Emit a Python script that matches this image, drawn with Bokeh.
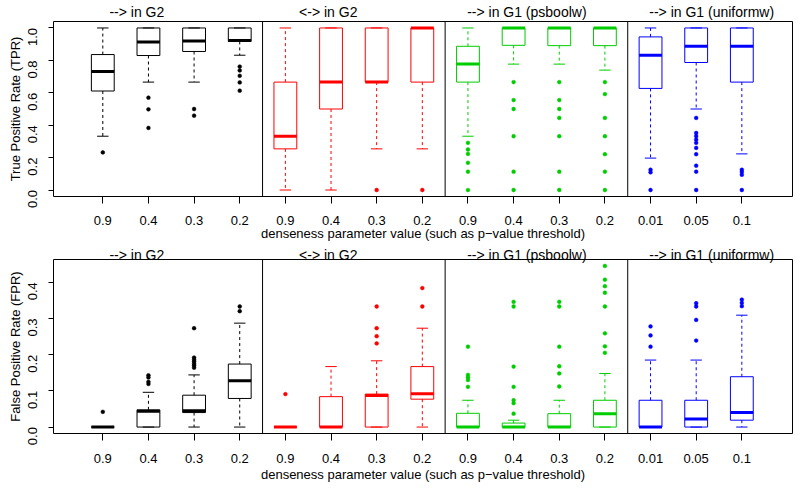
import math
from bokeh.plotting import figure
from bokeh.layouts import column
from bokeh.models import FixedTicker, Span, PrintfTickFormatter, LinearAxis
from bokeh.embed import file_html
from bokeh.resources import INLINE

# ---------------- data ----------------
tick_labels = ["0.9", "0.4", "0.3", "0.2"] * 3 + ["0.01", "0.05", "0.1"]
group_titles = ["--> in G2", "<-> in G2", "--> in G1 (psboolw)", "--> in G1 (uniformw)"]
group_sizes = [4, 4, 4, 3]
group_colors = ["#000000", "#FF0000", "#00CD00", "#0000FF"]
x_label = "denseness parameter value (such as p\u2212value threshold)"

# True Positive Rate boxplot statistics
tpr_low = [0.332, 0.666, 0.666, 0.832, 0.0, 0.0, 0.254, 0.254, 0.332, 0.777, 0.777, 0.740, 0.197, 0.5, 0.223]
tpr_q1 = [0.611, 0.830, 0.855, 0.917, 0.254, 0.5, 0.666, 0.666, 0.666, 0.893, 0.891, 0.891, 0.627, 0.787, 0.666]
tpr_med = [0.732, 0.914, 0.920, 0.923, 0.332, 0.666, 0.666, 1.0, 0.777, 1.0, 1.0, 1.0, 0.832, 0.887, 0.887]
tpr_q3 = [0.836, 1.0, 1.0, 1.0, 0.666, 1.0, 1.0, 1.0, 0.887, 1.0, 1.0, 1.0, 0.945, 1.0, 1.0]
tpr_up = [1.0] * 15
tpr_out = [
    [0.232],
    [0.570, 0.498, 0.383],
    [0.5, 0.459],
    [0.762, 0.738, 0.705, 0.664, 0.613],
    [],
    [],
    [0.0],
    [0.0],
    [0.291, 0.25, 0.223, 0.168, 0.113, 0.0],
    [0.666, 0.555, 0.5, 0.332, 0.113, 0.0],
    [0.666, 0.555, 0.5, 0.445, 0.332, 0.113, 0.0],
    [0.666, 0.592, 0.445, 0.332, 0.221, 0.113, 0.0],
    [0.125, 0.109, 0.0],
    [0.445, 0.352, 0.332, 0.311, 0.291, 0.26, 0.221, 0.15, 0.113, 0.0],
    [0.125, 0.111, 0.094, 0.0],
]

# False Positive Rate boxplot statistics
fpr_low = [0.0] * 15
fpr_q1 = [0.0, 0.0, 0.040, 0.079, 0.0, 0.0, 0.0, 0.077, 0.0, 0.0, 0.0, 0.0, 0.0, 0.0, 0.019]
fpr_med = [0.0, 0.044, 0.045, 0.128, 0.0, 0.0, 0.087, 0.092, 0.0, 0.0, 0.0, 0.037, 0.0, 0.022, 0.040]
fpr_q3 = [0.0, 0.0475, 0.088, 0.174, 0.0, 0.084, 0.091, 0.167, 0.038, 0.011, 0.037, 0.074, 0.074, 0.074, 0.139]
fpr_up = [0.0, 0.096, 0.144, 0.287, 0.0, 0.167, 0.183, 0.273, 0.074, 0.019, 0.074, 0.148, 0.185, 0.185, 0.309]
fpr_out = [
    [0.042],
    [0.143, 0.137, 0.125, 0.119],
    [0.192, 0.186, 0.181, 0.175, 0.170, 0.164, 0.273],
    [0.32, 0.333],
    [0.091],
    [],
    [0.231, 0.251, 0.273, 0.333],
    [0.333, 0.384],
    [0.111, 0.130, 0.137, 0.144, 0.222],
    [0.037, 0.066, 0.074, 0.111, 0.167, 0.333, 0.346],
    [0.112, 0.148, 0.168, 0.222, 0.333, 0.346],
    [0.205, 0.223, 0.259, 0.333, 0.371, 0.389, 0.407, 0.445],
    [0.222, 0.253, 0.278],
    [0.239, 0.296, 0.333, 0.342],
    [0.334, 0.343, 0.352],
]

# ---------------- layout constants ----------------
FONT = "Liberation Sans"
X_RANGE = (-0.08, 16.11)
TITLE_X = [1.745, 5.94, 10.29, 14.34]   # centres of the group titles
BOX_HALF = 0.25
STAPLE_HALF = 0.125

positions = list(range(1, len(tick_labels) + 1))
colors = []
for c, n in zip(group_colors, group_sizes):
    colors += [c] * n
dividers = []
acc = 0
for n in group_sizes[:-1]:
    acc += n
    dividers.append(acc + 0.5)


def make_panel(low, q1, med, q3, up, out, ylabel, yticks, border_top, frame_h, border_bottom,
               title_standoff, tick_standoff, xlabel_standoff):
    allv = low + up + [v for o in out for v in o]
    lo, hi = min(allv), max(allv)
    pad = (hi - lo) * 0.04
    p = figure(frame_width=739, frame_height=frame_h,
               x_range=X_RANGE, y_range=(lo - pad, hi + pad),
               output_backend="svg", toolbar_location=None,
               min_border_left=53, min_border_right=8,
               min_border_top=border_top, min_border_bottom=border_bottom)
    p.grid.visible = False
    p.outline_line_color = "black"
    p.outline_line_alpha = 1.0
    p.outline_line_width = 1
    p.background_fill_color = "white"
    p.border_fill_color = "white"

    xs = positions
    # whiskers
    p.segment(x0=xs, y0=q3, x1=xs, y1=up, line_color=colors, line_dash="3 3", line_width=1)
    p.segment(x0=xs, y0=q1, x1=xs, y1=low, line_color=colors, line_dash="3 3", line_width=1)
    # staples
    p.segment(x0=[x - STAPLE_HALF for x in xs], y0=up, x1=[x + STAPLE_HALF for x in xs], y1=up,
              line_color=colors, line_width=1)
    p.segment(x0=[x - STAPLE_HALF for x in xs], y0=low, x1=[x + STAPLE_HALF for x in xs], y1=low,
              line_color=colors, line_width=1)
    # boxes
    p.quad(left=[x - BOX_HALF for x in xs], right=[x + BOX_HALF for x in xs], bottom=q1, top=q3,
           fill_color=None, line_color=colors, line_width=1)
    # medians
    p.segment(x0=[x - BOX_HALF for x in xs], y0=med, x1=[x + BOX_HALF for x in xs], y1=med,
              line_color=colors, line_width=3)
    # outliers
    ox, oy, oc = [], [], []
    for x, o, c in zip(xs, out, colors):
        for v in o:
            ox.append(x)
            oy.append(v)
            oc.append(c)
    p.scatter(ox, oy, size=3.8, marker="circle", fill_color=oc, line_color=oc, line_width=0.5)

    for d in dividers:
        p.add_layout(Span(location=d, dimension="height", line_color="black", line_width=1))

    # group titles as an axis above the frame
    ta = LinearAxis(ticker=FixedTicker(ticks=TITLE_X),
                    major_label_overrides={x: t for x, t in zip(TITLE_X, group_titles)})
    ta.axis_line_color = None
    ta.major_tick_line_color = None
    ta.minor_tick_line_color = None
    ta.major_tick_in = 0
    ta.major_tick_out = 0
    ta.major_label_standoff = title_standoff
    ta.axis_label_standoff = 0
    ta.major_label_text_font = FONT
    ta.major_label_text_font_size = "14px"
    ta.major_label_text_color = "black"
    p.add_layout(ta, "above")

    # axes
    xa = p.below[0]
    xa.ticker = FixedTicker(ticks=positions)
    xa.major_label_overrides = {x: lab for x, lab in zip(positions, tick_labels)}
    xa.minor_tick_line_color = None
    xa.axis_line_color = None
    xa.major_tick_in = 0
    xa.major_tick_out = 7
    xa.major_tick_line_color = "black"
    xa.major_label_text_font = FONT
    xa.major_label_text_font_size = "13px"
    xa.major_label_text_color = "black"
    xa.major_label_standoff = tick_standoff
    xa.axis_label = x_label
    xa.axis_label_text_font = FONT
    xa.axis_label_text_font_size = "13px"
    xa.axis_label_text_font_style = "normal"
    xa.axis_label_text_color = "black"
    xa.axis_label_standoff = xlabel_standoff

    ya = p.left[0]
    ya.ticker = FixedTicker(ticks=yticks)
    ya.formatter = PrintfTickFormatter(format="%.1f")
    ya.minor_tick_line_color = None
    ya.axis_line_color = None
    ya.major_tick_in = 0
    ya.major_tick_out = 5
    ya.major_tick_line_color = "black"
    ya.major_label_orientation = math.pi / 2
    ya.major_label_text_font = FONT
    ya.major_label_text_font_size = "13px"
    ya.major_label_text_color = "black"
    ya.major_label_standoff = 16
    ya.axis_label = ylabel
    ya.axis_label_text_font = FONT
    ya.axis_label_text_font_size = "13px"
    ya.axis_label_text_font_style = "normal"
    ya.axis_label_text_color = "black"
    ya.axis_label_standoff = -2
    return p


p1 = make_panel(tpr_low, tpr_q1, tpr_med, tpr_q3, tpr_up, tpr_out, "True Positive Rate (TPR)",
                [0.0, 0.2, 0.4, 0.6, 0.8, 1.0], 20, 175, 45, 2, 12, -2)
p2 = make_panel(fpr_low, fpr_q1, fpr_med, fpr_q3, fpr_up, fpr_out, "False Positive Rate (FPR)",
                [0.0, 0.1, 0.2, 0.3, 0.4], 14, 174, 55, -3, 13, 1)

layout = column(p1, p2, spacing=0)
open("out.html", "w").write(file_html(layout, INLINE))
